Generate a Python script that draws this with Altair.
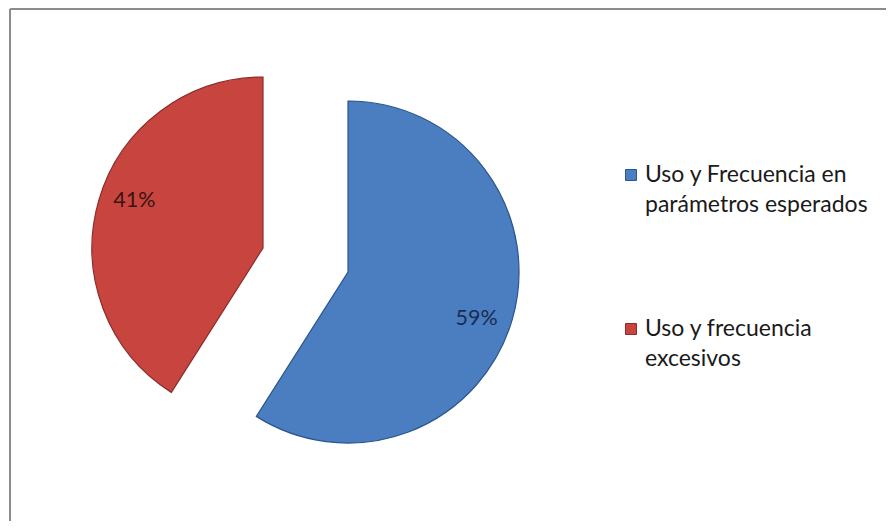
import altair as alt
import pandas as pd

# ---- data ----
categories = ["Uso y Frecuencia en\nparámetros esperados", "Uso y frecuencia\nexcesivos"]
values = [59, 41]
labels = ["59%", "41%"]
order = [0, 1]
colors = ["#4A7EC1", "#C8443F"]
edge_colors = ["#2B558C", "#8A2C2A"]
label_colors = ["#1B2C52", "#3A1412"]

df = pd.DataFrame({"category": categories, "value": values, "label": labels, "order": order})

base = alt.Chart(df).transform_window(
    cum="sum(value)", sort=[alt.SortField("order")], frame=[None, 0]
).transform_calculate(
    start="datum.cum - datum.value",
    mid="datum.cum - datum.value / 2",
)

theta_scale = alt.Scale(domain=[0, 100])
color_scale = alt.Scale(domain=categories, range=colors)
stroke_scale = alt.Scale(domain=categories, range=edge_colors)

CX, CY, R = 340, 263, 171
offsets = [(0, 0), (-85, -24)]

layers = []
for i in order:
    dx, dy = offsets[i]
    b = base.transform_filter(alt.datum.order == i)
    arc = b.mark_arc(
        x=CX, y=CY, outerRadius=R, xOffset=dx, yOffset=dy, strokeWidth=1.2,
    ).encode(
        theta=alt.Theta("start:Q", scale=theta_scale),
        theta2="cum:Q",
        color=alt.Color("category:N", scale=color_scale, legend=None),
        stroke=alt.Stroke("category:N", scale=stroke_scale, legend=None),
    )
    txt = b.mark_text(
        x=CX, y=CY, radius=137, thetaOffset=0.07, xOffset=dx, yOffset=dy,
        font="Lato", fontSize=21.5, color=label_colors[i],
    ).encode(
        theta=alt.Theta("mid:Q", scale=theta_scale),
        text="label:N",
    )
    layers += [arc, txt]

# ---- legend (drawn as marks so the two-line labels get Excel-like spacing) ----
legend_y = alt.Scale(type="point", domain=categories, range=[166, 320], padding=0)
leg_sym = alt.Chart(df).mark_square(size=121, filled=True, opacity=1, strokeWidth=1).encode(
    x=alt.value(623),
    y=alt.Y("category:N", scale=legend_y, axis=None),
    color=alt.Color("category:N", scale=color_scale, legend=None),
    stroke=alt.Stroke("category:N", scale=stroke_scale, legend=None),
)
leg_txt = alt.Chart(df).mark_text(
    align="left", baseline="middle", lineBreak="\n", lineHeight=30,
    font="Lato", fontSize=23, color="#1a1a1a",
).encode(
    x=alt.value(637),
    y=alt.Y("category:N", scale=legend_y, axis=None),
    text="category:N",
)

frame = alt.Chart(alt.Data(values=[{}]))
left_border = frame.mark_rule(color="#8C8C8C", strokeWidth=2).encode(
    x=alt.value(2), y=alt.value(0), y2=alt.value(513)
)
top_border = frame.mark_rule(color="#8C8C8C", strokeWidth=2).encode(
    x=alt.value(2), x2=alt.value(878), y=alt.value(0)
)

chart = alt.layer(*layers, leg_sym, leg_txt, left_border, top_border).properties(
    width=878, height=513,
    autosize=alt.AutoSizeParams(type="fit", contains="padding"),
    padding=0,
).configure_view(stroke=None)

chart.save("out.html", embed_options={"renderer": "svg", "actions": False})
